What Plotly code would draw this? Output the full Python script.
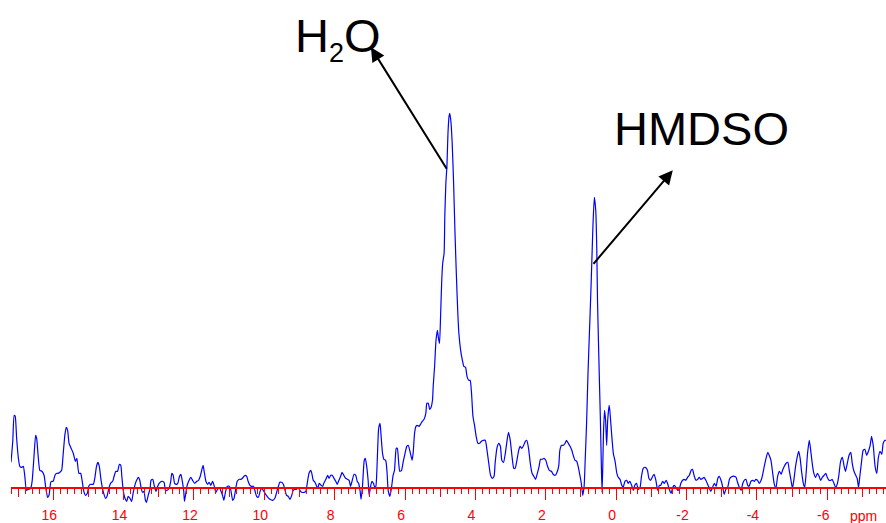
import plotly.graph_objects as go

# 1H NMR spectrum: chemical shift (ppm) and signal intensity (a.u.)
ppm = [
    17.20, 17.15, 17.11, 17.08, 17.04, 16.99, 16.95, 16.89, 16.85, 16.81,
    16.76, 16.70, 16.64, 16.60, 16.55, 16.50, 16.47, 16.43, 16.38, 16.32,
    16.26, 16.21, 16.16, 16.12, 16.07, 16.04, 16.00, 15.95, 15.90, 15.86,
    15.81, 15.76, 15.72, 15.67, 15.63, 15.59, 15.55, 15.49, 15.43, 15.37,
    15.33, 15.31, 15.27, 15.22, 15.18, 15.13, 15.08, 15.03, 14.99, 14.94,
    14.86, 14.81, 14.77, 14.73, 14.69, 14.64, 14.58, 14.51, 14.47, 14.42,
    14.37, 14.31, 14.27, 14.22, 14.17, 14.12, 14.08, 14.05, 14.01, 13.96,
    13.91, 13.87, 13.82, 13.77, 13.73, 13.68, 13.63, 13.58, 13.54, 13.50,
    13.46, 13.42, 13.38, 13.35, 13.30, 13.25, 13.22, 13.17, 13.13, 13.08,
    13.03, 12.99, 12.92, 12.85, 12.81, 12.76, 12.71, 12.66, 12.63, 12.59,
    12.55, 12.50, 12.46, 12.41, 12.37, 12.33, 12.29, 12.27, 12.24, 12.20,
    12.15, 12.09, 12.04, 11.98, 11.92, 11.87, 11.82, 11.78, 11.74, 11.71,
    11.66, 11.61, 11.57, 11.52, 11.47, 11.42, 11.38, 11.33, 11.28, 11.23,
    11.18, 11.15, 11.10, 11.05, 11.00, 10.95, 10.90, 10.86, 10.82, 10.77,
    10.71, 10.66, 10.60, 10.55, 10.50, 10.46, 10.41, 10.36, 10.31, 10.27,
    10.22, 10.17, 10.12, 10.08, 10.03, 9.98, 9.92, 9.84, 9.76, 9.70,
    9.65, 9.60, 9.56, 9.51, 9.46, 9.41, 9.37, 9.32, 9.27, 9.22,
    9.18, 9.13, 9.08, 9.04, 8.99, 8.94, 8.87, 8.82, 8.78, 8.73,
    8.68, 8.65, 8.61, 8.56, 8.51, 8.48, 8.44, 8.39, 8.34, 8.31,
    8.25, 8.20, 8.16, 8.11, 8.07, 8.02, 7.97, 7.93, 7.88, 7.83,
    7.79, 7.74, 7.69, 7.64, 7.59, 7.55, 7.50, 7.45, 7.40, 7.36,
    7.32, 7.28, 7.25, 7.21, 7.16, 7.13, 7.09, 7.05, 7.02, 6.98,
    6.94, 6.90, 6.86, 6.83, 6.79, 6.75, 6.71, 6.68, 6.64, 6.60,
    6.55, 6.51, 6.48, 6.43, 6.38, 6.34, 6.30, 6.25, 6.22, 6.18,
    6.15, 6.10, 6.05, 6.00, 5.95, 5.91, 5.86, 5.80, 5.77, 5.73,
    5.69, 5.65, 5.60, 5.56, 5.51, 5.46, 5.41, 5.38, 5.34, 5.30,
    5.26, 5.22, 5.20, 5.16, 5.12, 5.08, 5.05, 5.02, 4.99, 4.96,
    4.93, 4.89, 4.87, 4.84, 4.81, 4.78, 4.75, 4.73, 4.70, 4.66,
    4.62, 4.58, 4.54, 4.50, 4.47, 4.42, 4.37, 4.33, 4.28, 4.24,
    4.19, 4.15, 4.11, 4.07, 4.02, 3.98, 3.93, 3.88, 3.83, 3.78,
    3.72, 3.67, 3.62, 3.57, 3.52, 3.47, 3.44, 3.39, 3.34, 3.29,
    3.25, 3.20, 3.15, 3.10, 3.06, 3.01, 2.96, 2.91, 2.87, 2.82,
    2.77, 2.73, 2.68, 2.63, 2.58, 2.54, 2.49, 2.44, 2.39, 2.34,
    2.29, 2.24, 2.19, 2.15, 2.10, 2.05, 2.00, 1.95, 1.90, 1.84,
    1.79, 1.73, 1.68, 1.63, 1.60, 1.55, 1.50, 1.45, 1.41, 1.36,
    1.31, 1.26, 1.22, 1.17, 1.12, 1.08, 1.03, 0.99, 0.95, 0.91,
    0.88, 0.84, 0.80, 0.76, 0.72, 0.69, 0.66, 0.62, 0.58, 0.55,
    0.53, 0.49, 0.45, 0.42, 0.40, 0.38, 0.36, 0.33, 0.30, 0.27,
    0.24, 0.20, 0.18, 0.13, 0.08, 0.03, -0.02, -0.06, -0.11, -0.16,
    -0.20, -0.25, -0.30, -0.34, -0.39, -0.44, -0.49, -0.53, -0.58, -0.63,
    -0.68, -0.72, -0.77, -0.83, -0.89, -0.93, -0.98, -1.04, -1.08, -1.13,
    -1.18, -1.23, -1.27, -1.32, -1.37, -1.42, -1.46, -1.51, -1.56, -1.61,
    -1.65, -1.70, -1.75, -1.79, -1.84, -1.89, -1.94, -1.98, -2.03, -2.08,
    -2.13, -2.17, -2.22, -2.27, -2.32, -2.36, -2.41, -2.46, -2.50, -2.55,
    -2.60, -2.65, -2.69, -2.74, -2.79, -2.84, -2.89, -2.93, -2.98, -3.03,
    -3.07, -3.12, -3.17, -3.22, -3.26, -3.31, -3.36, -3.41, -3.45, -3.50,
    -3.55, -3.60, -3.64, -3.69, -3.74, -3.78, -3.83, -3.88, -3.93, -3.97,
    -4.02, -4.07, -4.12, -4.16, -4.21, -4.26, -4.31, -4.35, -4.40, -4.45,
    -4.49, -4.54, -4.59, -4.64, -4.69, -4.73, -4.78, -4.83, -4.88, -4.92,
    -4.97, -5.01, -5.05, -5.10, -5.15, -5.19, -5.23, -5.27, -5.32, -5.36,
    -5.40, -5.44, -5.49, -5.53, -5.58, -5.62, -5.67, -5.72, -5.77, -5.81,
    -5.86, -5.91, -5.96, -6.00, -6.05, -6.10, -6.14, -6.19, -6.24, -6.29,
    -6.33, -6.38, -6.43, -6.48, -6.52, -6.57, -6.62, -6.67, -6.71, -6.76,
    -6.81, -6.85, -6.89, -6.93, -6.98, -7.02, -7.07, -7.12, -7.17, -7.22,
    -7.26, -7.31, -7.36, -7.41, -7.45, -7.50, -7.55, -7.59, -7.64, -7.67,
]

intensity = [
    26, 47, 73, 72, 50, 30, 22, 21, 22, 13,
    -2, -1, 0, 7, 30, 53, 50, 33, 18, 17,
    13, 0, -9, -7, 6, 7, 7, 13, 15, 15,
    16, 18, 33, 53, 61, 58, 45, 40, 35, 27,
    30, 25, 15, 15, 8, -3, -7, -5, 2, 4,
    4, 12, 22, 26, 22, 8, -3, -10, -8, 0,
    5, 7, 12, 17, 17, 24, 23, 12, -2, -10,
    -13, -8, -10, -13, -5, 3, 8, 11, 8, 0,
    -4, -3, -12, -14, -7, -1, 8, 9, 3, -3,
    2, 5, 7, 6, -2, -2, 0, 7, 15, 13,
    5, 4, 5, 12, 14, 7, -3, -13, -7, 2,
    7, 11, 8, 5, 7, 8, 12, 18, 23, 17,
    7, 4, 6, 3, 7, 2, -4, -1, 1, -3,
    -8, -12, -3, 2, 2, -2, -12, -10, -2, 7,
    9, 9, 11, 13, 12, 7, 3, 2, 2, -2,
    -8, -9, -3, 0, -2, -5, -8, -11, -12, -10,
    -4, 2, 6, 6, 4, -2, -7, -8, -11, -7,
    -2, -1, -1, 1, -2, -4, -4, -3, 5, 15,
    18, 15, 8, 6, 2, 0, 5, 3, 2, 5,
    9, 13, 10, 13, 13, 10, 7, 4, 8, 12,
    16, 13, 10, 9, 8, 2, 8, 14, 13, 7,
    5, -2, -11, 2, 28, 30, 22, 8, -7, 2,
    7, 5, 1, 2, 28, 60, 65, 52, 35, 29,
    28, 15, -2, -8, 2, 13, 18, 40, 40, 25,
    17, 18, 27, 35, 42, 43, 37, 28, 35, 55,
    62, 63, 62, 64, 67, 69, 75, 85, 85, 79,
    81, 88, 102, 122, 148, 158, 150, 145, 172, 205,
    225, 235, 272, 305, 322, 355, 372, 375, 368, 345,
    305, 255, 212, 175, 155, 138, 128, 122, 121, 112,
    108, 108, 95, 72, 62, 52, 45, 45, 47, 48,
    48, 38, 25, 13, 10, 12, 25, 40, 45, 42,
    28, 26, 35, 48, 56, 48, 32, 20, 20, 28,
    38, 42, 40, 43, 47, 48, 40, 25, 15, 12,
    9, 15, 22, 29, 29, 30, 28, 22, 18, 17,
    14, 13, 16, 23, 38, 43, 43, 45, 48, 45,
    42, 38, 33, 28, 27, 22, 13, 5, -7, 2,
    28, 65, 115, 155, 195, 228, 262, 291, 278, 238,
    188, 128, 72, 22, -4, 22, 55, 78, 68, 43,
    68, 83, 78, 55, 35, 27, 15, 11, 9, 3,
    1, 7, 8, 5, 7, 3, -2, 3, 5, -1,
    1, 12, 20, 21, 18, 10, 8, 12, 14, 8,
    -2, 3, 3, 7, 5, 8, 5, -1, -5, 1,
    3, 1, -2, -1, 5, 8, 9, 8, 11, 13,
    18, 19, 12, 8, 9, 11, 9, 10, 11, 8,
    4, 0, -3, 1, 5, 2, 10, 12, 8, 1,
    -6, -1, 1, 9, 11, 12, 12, 11, 6, 1,
    -2, 5, 8, 9, 3, 2, 7, 8, 7, 9,
    8, 5, 8, 13, 22, 30, 36, 33, 28, 15,
    5, 0, 12, 17, 14, 18, 22, 25, 26, 18,
    8, 0, 8, 22, 32, 37, 30, 17, 5, 1,
    15, 35, 48, 38, 23, 15, 11, 15, 12, 8,
    11, 13, 15, 11, 8, 8, 9, 5, 1, 5,
    13, 27, 31, 22, 17, 25, 33, 36, 25, 17,
    13, 10, 1, 13, 28, 38, 39, 33, 37, 43,
    52, 42, 22, 15, 30, 37, 34, 45, 48, 48,
]

assert len(ppm) == len(intensity)

# Axis ticks: labelled even shifts, medium odd shifts, minor every 0.2 ppm
label_vals = [16, 14, 12, 10, 8, 6, 4, 2, 0, -2, -4, -6]
label_text = ["16", "14", "12", "10", "8", "6", "4", "2", "0", "-2", "-4", "-6"]
odd_vals = [17, 15, 13, 11, 9, 7, 5, 3, 1, -1, -3, -5, -7]
unit_label = "ppm"
unit_pos = -7.04

# Peak assignments: (label, text position, arrow tail on peak, arrow tip)
h2o = {"text": "H<sub><span style='font-size:27px'>2</span></sub>O",
       "pos": (7.92, 450), "tail": (4.79, 318), "tip": (6.97, 441)}
hmdso = {"text": "HMDSO",
         "pos": (-2.43, 360), "tail": (0.68, 223), "tip": (-1.61, 318)}

x_range = [17.20, -7.67]
y_range = [-16.7, 488.3]

RED = "#ff0000"
FONT = "Arial, Liberation Sans, sans-serif"

fig = go.Figure()
fig.add_trace(go.Scatter(
    x=ppm, y=intensity, mode="lines",
    line=dict(color="#0000ff", width=1.2, shape="spline", smoothing=0.5),
    showlegend=False, hoverinfo="skip",
))
# empty trace carrying the overlay axis for the odd-ppm ticks
fig.add_trace(go.Scatter(x=[], y=[], xaxis="x2", yaxis="y", showlegend=False))

axis_pos = (0 - y_range[0]) / (y_range[1] - y_range[0])

fig.update_layout(
    width=886, height=523,
    margin=dict(l=11, r=0, t=0, b=18),
    paper_bgcolor="white", plot_bgcolor="white",
    font=dict(family=FONT),
    yaxis=dict(range=y_range, visible=False, fixedrange=True),
    xaxis=dict(
        range=x_range, anchor="free", position=axis_pos,
        showline=True, linecolor=RED, linewidth=2,
        showgrid=False, zeroline=False,
        ticks="outside", ticklen=11, tickwidth=1, tickcolor=RED,
        tickmode="array", tickvals=label_vals, ticktext=label_text,
        tickfont=dict(color=RED, size=14, family=FONT),
        ticklabelstandoff=3, ticklabelshift=4,
        minor=dict(tickmode="linear", tick0=0, dtick=0.2, ticks="outside",
                   ticklen=5, tickwidth=1, tickcolor=RED, showgrid=False),
    ),
    xaxis2=dict(
        range=x_range, overlaying="x", anchor="free", position=axis_pos,
        showline=False, showgrid=False, zeroline=False,
        ticks="outside", ticklen=8, tickwidth=1, tickcolor=RED,
        tickmode="array", tickvals=odd_vals, showticklabels=False,
    ),
)

for peak in (h2o, hmdso):
    fig.add_annotation(
        x=peak["pos"][0], y=peak["pos"][1], text=peak["text"],
        showarrow=False, xanchor="center", yanchor="middle",
        font=dict(size=47, color="black", family=FONT),
    )
    fig.add_annotation(
        x=peak["tip"][0], y=peak["tip"][1], text="",
        ax=peak["tail"][0], ay=peak["tail"][1], axref="x", ayref="y",
        showarrow=True, arrowhead=2, arrowsize=1.4, arrowwidth=2,
        arrowcolor="black",
    )

# unit label sits on the tick-label row, below the plotting area
fig.add_annotation(
    x=unit_pos, xref="x", y=-0.021, yref="paper", text=unit_label,
    showarrow=False, xanchor="center", yanchor="middle",
    font=dict(size=14, color=RED, family=FONT),
)

fig.write_html("out.html")
